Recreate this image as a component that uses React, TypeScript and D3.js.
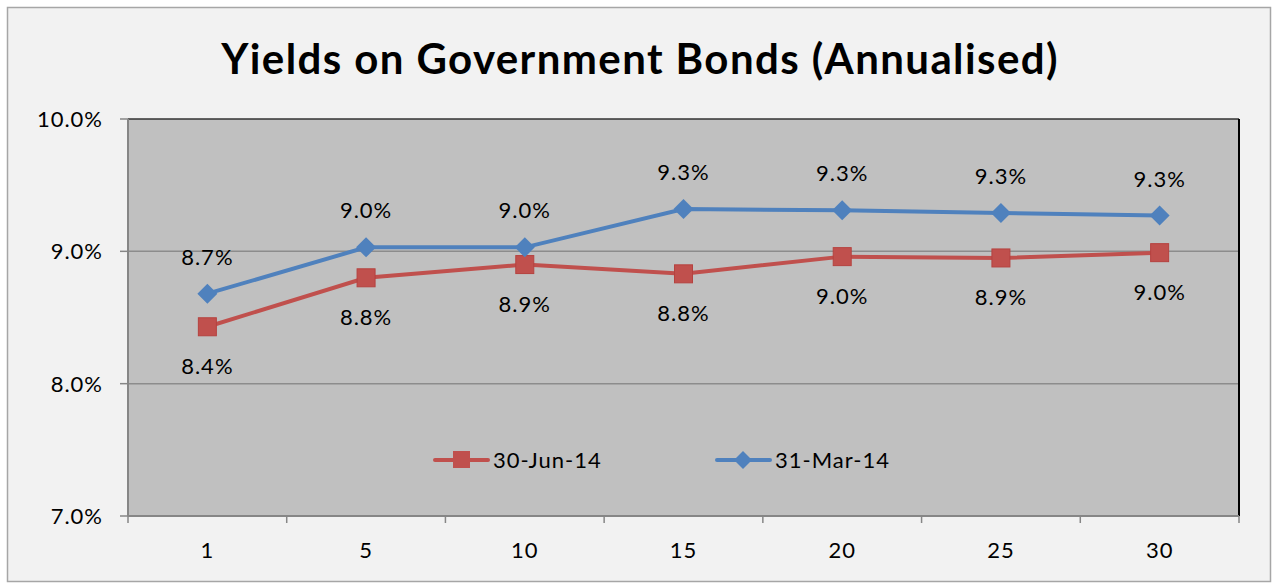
import React from "react";
import * as d3 from "d3";

const categories = ["1", "5", "10", "15", "20", "25", "30"];
const jun14 = [8.43, 8.8, 8.9, 8.83, 8.96, 8.95, 8.99];
const mar14 = [8.68, 9.03, 9.03, 9.32, 9.31, 9.29, 9.27];
const yTicks = [7, 8, 9, 10];
const seriesNames = ["30-Jun-14", "31-Mar-14"];

const W = 1272, H = 583;
const plot = { l: 128, r: 1239, t: 119, b: 516 };
const FONT = "Lato, 'Open Sans', sans-serif";
const LS = 1;

export default function App() {
  const x = d3.scaleBand<string>().domain(categories).range([plot.l, plot.r]);
  const y = d3.scaleLinear().domain([7, 10]).range([plot.b, plot.t]);
  const cx = (c: string) => (x(c) as number) + x.bandwidth() / 2;
  const line = d3.line<number>().x((_, i) => cx(categories[i])).y((v) => y(v));
  const red = "#c0504d", blue = "#4f81bd";
  const bounds = [...categories.map((c) => x(c) as number), plot.r];
  const txt = { fontFamily: FONT, fontSize: 22, fill: "#000", letterSpacing: LS } as const;
  return (
    <svg width={W} height={H} style={{ position: "absolute", left: 0, top: 0 }}>
      <rect x={7.5} y={7.5} width={W - 9} height={H - 9} fill="#f2f2f2" stroke="#a6a6a6" strokeWidth={1.5} />
      <text x={640} y={74} textAnchor="middle" fontFamily={FONT} fontWeight="bold" fontSize={42} letterSpacing={1.4} fill="#000">
        Yields on Government Bonds (Annualised)
      </text>
      <rect x={plot.l} y={plot.t} width={plot.r - plot.l} height={plot.b - plot.t} fill="#c0c0c0" />
      {yTicks.slice(1, 3).map((t) => (
        <line key={t} x1={plot.l} x2={plot.r} y1={y(t)} y2={y(t)} stroke="#8c8c8c" strokeWidth={1.5} />
      ))}
      <line x1={plot.l} x2={plot.r} y1={plot.t} y2={plot.t} stroke="#333" strokeWidth={1.5} />
      <line x1={plot.r} x2={plot.r} y1={plot.t} y2={plot.b} stroke="#000" strokeWidth={2} />
      <line x1={plot.l} x2={plot.l} y1={plot.t} y2={plot.b} stroke="#868686" strokeWidth={2} />
      <line x1={plot.l} x2={plot.r} y1={plot.b} y2={plot.b} stroke="#868686" strokeWidth={2} />
      {yTicks.map((t) => (
        <g key={t}>
          <line x1={plot.l - 8} x2={plot.l} y1={y(t)} y2={y(t)} stroke="#868686" strokeWidth={1.5} />
          <text x={plot.l - 25} y={y(t) + 8} textAnchor="end" {...txt}>
            {t.toFixed(1)}%
          </text>
        </g>
      ))}
      {bounds.map((b, i) => (
        <line key={i} x1={b} x2={b} y1={plot.b} y2={plot.b + 7} stroke="#868686" strokeWidth={1.5} />
      ))}
      {categories.map((c) => (
        <text key={c} x={cx(c)} y={558} textAnchor="middle" {...txt}>
          {c}
        </text>
      ))}
      <path d={line(jun14) || ""} fill="none" stroke={red} strokeWidth={4} />
      <path d={line(mar14) || ""} fill="none" stroke={blue} strokeWidth={4} />
      {jun14.map((v, i) => (
        <g key={"r" + i}>
          <rect x={cx(categories[i]) - 9} y={y(v) - 9} width={18} height={18} fill={red} stroke="#b5423f" strokeWidth={1} />
          <text x={cx(categories[i])} y={y(v) + 47} textAnchor="middle" {...txt}>
            {v.toFixed(1)}%
          </text>
        </g>
      ))}
      {mar14.map((v, i) => (
        <g key={"b" + i}>
          <path d={`M${cx(categories[i])},${y(v) - 10}l10,10l-10,10l-10,-10z`} fill={blue} />
          <text x={cx(categories[i])} y={y(v) - 29} textAnchor="middle" {...txt}>
            {v.toFixed(1)}%
          </text>
        </g>
      ))}
      <g>
        <line x1={435} x2={488} y1={460} y2={460} stroke={red} strokeWidth={4} strokeLinecap="round" />
        <rect x={453} y={451} width={17} height={17} fill={red} />
        <text x={493} y={468} {...txt}>{seriesNames[0]}</text>
        <line x1={717} x2={770} y1={460} y2={460} stroke={blue} strokeWidth={4} strokeLinecap="round" />
        <path d={`M743,451l9,9l-9,9l-9,-9z`} fill={blue} />
        <text x={775} y={468} {...txt}>{seriesNames[1]}</text>
      </g>
    </svg>
  );
}
